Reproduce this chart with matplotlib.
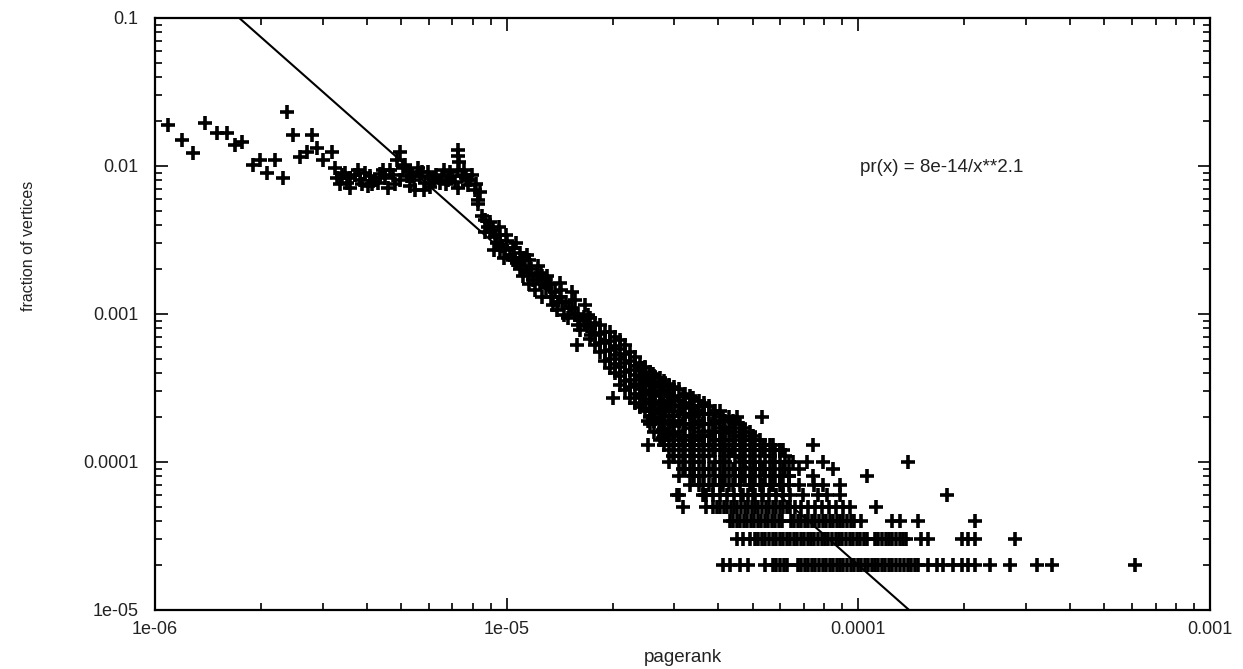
import matplotlib.pyplot as plt
import numpy as np
from matplotlib.ticker import NullFormatter

# fitted power law shown on the chart: pr(x) = 8e-14 / x**2.1
fit_coef = 8e-14
fit_exp = 2.1

# sparse points, upper left
left_x = [1.09e-6, 1.19e-6, 1.28e-6, 1.39e-6, 1.50e-6, 1.60e-6, 1.69e-6, 1.77e-6,
          1.90e-6, 1.99e-6, 2.19e-6, 2.08e-6, 2.31e-6, 2.37e-6, 2.47e-6, 2.79e-6,
          2.58e-6, 2.70e-6, 2.89e-6, 3.00e-6, 3.19e-6, 3.25e-6, 3.40e-6]
left_y = [0.0189, 0.0150, 0.0122, 0.0195, 0.0167, 0.0167, 0.0139, 0.0145,
          0.0102, 0.0110, 0.0110, 0.0090, 0.0083, 0.0232, 0.0162, 0.0162,
          0.0115, 0.0124, 0.0132, 0.0110, 0.0124, 0.0097, 0.0087]

# plateau around 0.008
plateau_x = [3.47e-6, 3.58e-6, 3.70e-6, 3.82e-6, 3.95e-6, 4.08e-6, 4.22e-6, 4.36e-6,
             4.51e-6, 4.66e-6, 4.74e-6, 4.88e-6, 4.97e-6, 5.06e-6, 5.21e-6, 5.30e-6,
             5.44e-6, 5.59e-6, 5.66e-6, 5.85e-6, 5.96e-6, 6.12e-6, 6.28e-6, 6.45e-6,
             6.62e-6, 6.81e-6, 6.98e-6, 7.25e-6, 7.25e-6, 7.34e-6, 7.25e-6, 7.44e-6,
             7.65e-6, 7.87e-6, 8.11e-6, 8.27e-6, 7.76e-6, 3.36e-6, 4.14e-6, 4.81e-6,
             6.04e-6, 5.48e-6, 3.30e-6, 3.52e-6, 3.78e-6, 3.88e-6, 4.31e-6, 4.45e-6,
             4.97e-6, 5.13e-6, 5.37e-6, 5.74e-6, 6.20e-6, 6.53e-6, 6.90e-6, 7.12e-6,
             7.55e-6, 7.95e-6, 8.16e-6, 8.38e-6, 3.58e-6, 4.02e-6, 4.60e-6, 5.30e-6,
             5.81e-6, 6.74e-6, 7.25e-6]
plateau_y = [0.0089, 0.0083, 0.0087, 0.0081, 0.0089, 0.0085, 0.0080, 0.0088,
             0.0083, 0.0094, 0.0087, 0.0110, 0.0124, 0.0097, 0.0085, 0.0091,
             0.0081, 0.0097, 0.0086, 0.0077, 0.0091, 0.0083, 0.0087, 0.0077,
             0.0094, 0.0081, 0.0086, 0.0128, 0.0117, 0.0106, 0.0094, 0.0086,
             0.0083, 0.0081, 0.0069, 0.0059, 0.0074, 0.0076, 0.0075, 0.0076,
             0.0072, 0.0069, 0.0083, 0.0077, 0.0094, 0.0075, 0.0077, 0.0094,
             0.0081, 0.0102, 0.0086, 0.0091, 0.0081, 0.0086, 0.0091, 0.0078,
             0.0094, 0.0087, 0.0075, 0.0067, 0.0071, 0.0073, 0.0071, 0.0073,
             0.0069, 0.0075, 0.0071]

# narrow descending band
band_x = [8.27e-6, 8.49e-6, 8.66e-6, 8.84e-6, 8.96e-6, 9.15e-6, 9.25e-6, 9.37e-6,
          9.57e-6, 9.70e-6, 9.87e-6, 1.00e-5, 1.02e-5, 1.04e-5, 1.05e-5, 1.07e-5,
          1.09e-5, 1.10e-5, 1.13e-5, 1.15e-5, 1.17e-5, 1.19e-5, 1.22e-5, 1.24e-5,
          1.26e-5, 1.29e-5, 1.31e-5, 1.34e-5, 1.37e-5, 1.40e-5, 1.42e-5, 1.44e-5,
          1.47e-5, 1.50e-5, 1.53e-5, 1.56e-5, 1.59e-5, 1.62e-5, 1.66e-5, 1.69e-5,
          1.05e-5, 1.09e-5, 1.14e-5, 1.16e-5, 1.23e-5, 1.26e-5, 1.30e-5, 1.35e-5,
          1.42e-5, 1.46e-5, 1.53e-5, 1.59e-5, 1.67e-5, 9.57e-6, 1.58e-5,
          8.66e-6, 8.96e-6, 9.20e-6, 9.50e-6, 9.80e-6, 9.95e-6, 1.04e-5, 1.06e-5,
          1.11e-5, 1.12e-5, 1.16e-5, 1.20e-5, 1.25e-5, 1.28e-5, 1.34e-5, 1.39e-5,
          1.43e-5, 1.49e-5, 1.56e-5, 1.62e-5, 1.70e-5, 1.74e-5]
band_y = [0.0055, 0.0046, 0.0043, 0.0039, 0.0036, 0.0037, 0.0033, 0.0030,
          0.0034, 0.0029, 0.0027, 0.0031, 0.0025, 0.0028, 0.0024, 0.0022,
          0.0026, 0.0021, 0.0023, 0.0019, 0.0020, 0.0017, 0.0018, 0.0016,
          0.0018, 0.0015, 0.0016, 0.0013, 0.0014, 0.0012, 0.0013, 0.0012,
          0.0012, 0.0011, 0.0011, 0.00098, 0.0010, 0.00091, 0.00096, 0.00083,
          0.0028, 0.0020, 0.0025, 0.0016, 0.0021, 0.0013, 0.0018, 0.00115,
          0.00163, 0.00098, 0.0014, 0.00084, 0.00115, 0.0027, 0.00062,
          0.0036, 0.0042, 0.0027, 0.0039, 0.0024, 0.0034, 0.0023, 0.0030,
          0.0018, 0.0024, 0.0023, 0.00145, 0.0019, 0.0017, 0.0016, 0.00106,
          0.00145, 0.00094, 0.00124, 0.00078, 0.00098, 0.00072]

# wide body, read column by column
body_x = [1.72e-5, 1.84e-5, 1.97e-5, 2.10e-5, 2.24e-5, 2.39e-5, 2.55e-5, 2.72e-5,
          2.90e-5, 3.10e-5, 3.31e-5, 3.53e-5, 3.77e-5, 4.03e-5, 4.30e-5, 4.60e-5,
          4.91e-5, 5.24e-5, 5.59e-5, 5.97e-5, 6.37e-5]
body_y = [
    [9.4e-4, 8.0e-4, 6.8e-4],
    [8.4e-4, 7.3e-4, 6.4e-4, 5.5e-4],
    [7.5e-4, 6.6e-4, 5.7e-4, 5.0e-4, 4.3e-4],
    [6.7e-4, 5.8e-4, 5.0e-4, 4.4e-4, 3.8e-4, 3.3e-4],
    [5.5e-4, 4.8e-4, 4.2e-4, 3.6e-4, 3.2e-4, 2.7e-4],
    [4.7e-4, 4.1e-4, 3.6e-4, 3.1e-4, 2.7e-4, 2.35e-4],
    [4.05e-4, 3.5e-4, 3.06e-4, 2.66e-4, 2.3e-4, 2.0e-4, 1.8e-4],
    [3.7e-4, 3.2e-4, 2.8e-4, 2.43e-4, 2.1e-4, 1.8e-4, 1.6e-4, 1.4e-4],
    [3.3e-4, 2.9e-4, 2.5e-4, 2.2e-4, 1.9e-4, 1.6e-4, 1.4e-4, 1.2e-4, 1.0e-4],
    [3.1e-4, 2.6e-4, 2.2e-4, 1.9e-4, 1.6e-4, 1.4e-4, 1.2e-4, 1.0e-4, 8e-5],
    [2.8e-4, 2.4e-4, 2.1e-4, 1.8e-4, 1.5e-4, 1.3e-4, 1.1e-4, 9e-5, 7e-5],
    [2.6e-4, 2.2e-4, 1.9e-4, 1.6e-4, 1.4e-4, 1.2e-4, 1.0e-4, 8e-5, 7e-5],
    [2.4e-4, 2.1e-4, 1.8e-4, 1.5e-4, 1.3e-4, 1.1e-4, 9e-5, 7e-5],
    [2.2e-4, 1.9e-4, 1.6e-4, 1.4e-4, 1.2e-4, 1.0e-4, 8e-5, 7e-5],
    [2.0e-4, 1.7e-4, 1.4e-4, 1.2e-4, 1.1e-4, 9e-5, 7e-5],
    [1.8e-4, 1.5e-4, 1.3e-4, 1.1e-4, 9e-5, 8e-5, 7e-5],
    [1.6e-4, 1.4e-4, 1.2e-4, 1.0e-4, 8e-5, 7e-5],
    [1.4e-4, 1.2e-4, 1.0e-4, 9e-5, 7e-5],
    [1.3e-4, 1.1e-4, 9e-5, 7e-5],
    [1.2e-4, 1.0e-4, 8e-5, 7e-5],
    [1.0e-4, 8e-5, 7e-5],
]
body2_x = [1.78e-5, 1.90e-5, 2.03e-5, 2.17e-5, 2.31e-5, 2.47e-5, 2.63e-5, 2.81e-5,
           3.00e-5, 3.21e-5, 3.42e-5, 3.65e-5, 3.90e-5, 4.17e-5, 4.45e-5, 4.75e-5,
           5.07e-5, 5.41e-5, 5.78e-5, 6.17e-5]
body2_y = [
    [8.7e-4, 7.4e-4, 6.2e-4],
    [7.6e-4, 6.6e-4, 5.6e-4, 4.8e-4],
    [7.0e-4, 6.1e-4, 5.3e-4, 4.6e-4, 4.0e-4],
    [6.2e-4, 5.4e-4, 4.7e-4, 4.05e-4, 3.5e-4, 3.06e-4],
    [5.1e-4, 4.45e-4, 3.87e-4, 3.36e-4, 2.9e-4, 2.5e-4],
    [4.4e-4, 3.8e-4, 3.3e-4, 2.9e-4, 2.5e-4, 2.2e-4],
    [3.8e-4, 3.3e-4, 2.9e-4, 2.5e-4, 2.2e-4, 1.9e-4, 1.6e-4],
    [3.5e-4, 3.0e-4, 2.6e-4, 2.3e-4, 2.0e-4, 1.7e-4, 1.5e-4, 1.3e-4],
    [3.2e-4, 2.75e-4, 2.4e-4, 2.05e-4, 1.75e-4, 1.5e-4, 1.3e-4, 1.1e-4],
    [2.9e-4, 2.5e-4, 2.1e-4, 1.8e-4, 1.5e-4, 1.3e-4, 1.1e-4, 9e-5],
    [2.4e-4, 2.1e-4, 1.8e-4, 1.5e-4, 1.3e-4, 1.1e-4, 9e-5, 8e-5],
    [2.5e-4, 2.1e-4, 1.8e-4, 1.5e-4, 1.3e-4, 1.1e-4, 9e-5, 8e-5],
    [2.2e-4, 1.9e-4, 1.6e-4, 1.4e-4, 1.2e-4, 1.0e-4, 8e-5],
    [1.9e-4, 1.6e-4, 1.4e-4, 1.2e-4, 1.0e-4, 8e-5],
    [1.8e-4, 1.5e-4, 1.3e-4, 1.1e-4, 9e-5, 8e-5],
    [1.6e-4, 1.4e-4, 1.2e-4, 1.0e-4, 8e-5],
    [1.4e-4, 1.2e-4, 1.0e-4, 9e-5, 8e-5],
    [1.3e-4, 1.1e-4, 9e-5, 8e-5],
    [1.2e-4, 1.0e-4, 8e-5],
    [1.1e-4, 9e-5],
]
body3_x = [2.44e-5, 2.61e-5, 2.78e-5, 2.97e-5, 3.17e-5, 3.39e-5, 3.62e-5, 3.86e-5,
           4.12e-5, 4.40e-5, 4.70e-5, 5.02e-5, 5.35e-5, 5.72e-5, 6.10e-5]
body3_y = [
    [4.3e-4, 3.75e-4, 3.25e-4, 2.85e-4, 2.45e-4],
    [3.95e-4, 3.4e-4, 3.0e-4, 2.55e-4, 2.2e-4, 1.95e-4],
    [3.35e-4, 2.95e-4, 2.5e-4, 2.2e-4, 1.9e-4, 1.65e-4, 1.45e-4],
    [3.1e-4, 2.7e-4, 2.35e-4, 2.05e-4, 1.8e-4, 1.55e-4, 1.3e-4, 1.1e-4],
    [2.8e-4, 2.4e-4, 2.1e-4, 1.8e-4, 1.5e-4, 1.3e-4, 1.1e-4, 9e-5],
    [2.7e-4, 2.3e-4, 2.0e-4, 1.7e-4, 1.4e-4, 1.2e-4, 1.0e-4, 8e-5],
    [2.4e-4, 2.1e-4, 1.8e-4, 1.5e-4, 1.3e-4, 1.1e-4, 9e-5, 7e-5],
    [2.1e-4, 1.8e-4, 1.6e-4, 1.3e-4, 1.2e-4, 9e-5, 7e-5],
    [2.0e-4, 1.7e-4, 1.4e-4, 1.2e-4, 1.0e-4, 8e-5, 7e-5],
    [1.9e-4, 1.6e-4, 1.3e-4, 1.2e-4, 9e-5, 7e-5],
    [1.7e-4, 1.4e-4, 1.2e-4, 1.0e-4, 8e-5, 6e-5],
    [1.5e-4, 1.3e-4, 1.1e-4, 9e-5, 7e-5, 6e-5],
    [1.3e-4, 1.2e-4, 9e-5, 7e-5, 6e-5],
    [1.2e-4, 1.0e-4, 8e-5, 7e-5],
    [1.2e-4, 9e-5, 7e-5],
]

# scattered points above the quantized rows
outlier_x = [2.0e-5, 2.52e-5, 2.52e-5, 3.05e-5, 3.66e-5, 4.52e-5, 5.32e-5, 5.71e-5,
             5.99e-5, 6.52e-5, 7.14e-5, 7.43e-5, 7.94e-5, 8.48e-5, 7.43e-5, 8.87e-5,
             1.06e-4, 1.38e-4, 1.79e-4, 6.96e-5, 7.68e-5, 8.15e-5, 8.87e-5, 6.37e-5,
             6.80e-5, 6.80e-5, 7.50e-5, 7.94e-5, 3.10e-5, 3.62e-5]
outlier_y = [2.7e-4, 1.9e-4, 1.3e-4, 6e-5, 6e-5, 2.0e-4, 2.0e-4, 1.3e-4,
             1.2e-4, 1.0e-4, 1.0e-4, 1.3e-4, 1.0e-4, 9e-5, 8e-5, 7e-5,
             8e-5, 1.0e-4, 6e-5, 6e-5, 6e-5, 6e-5, 6e-5, 8e-5,
             9e-5, 7e-5, 7e-5, 7e-5, 6e-5, 6e-5]

# quantized low rows (count / total vertices)
row6_x = [3.69e-5, 3.86e-5, 4.04e-5, 4.23e-5, 4.43e-5, 4.64e-5, 4.86e-5, 5.08e-5,
          5.32e-5, 5.57e-5, 5.84e-5, 6.11e-5, 6.40e-5]
row5_x = [3.17e-5, 3.69e-5, 3.86e-5, 3.95e-5, 4.04e-5, 4.14e-5, 4.23e-5, 4.33e-5,
          4.43e-5, 4.53e-5, 4.64e-5, 4.75e-5, 4.86e-5, 4.97e-5, 5.08e-5, 5.20e-5,
          5.32e-5, 5.45e-5, 5.57e-5, 5.70e-5, 5.84e-5, 5.97e-5, 6.11e-5, 6.25e-5,
          6.40e-5, 6.60e-5, 6.87e-5, 7.19e-5, 7.53e-5, 7.88e-5, 8.25e-5, 8.64e-5,
          9.04e-5, 9.47e-5, 1.12e-4]
row4_x = [4.31e-5, 4.41e-5, 4.51e-5, 4.62e-5, 4.72e-5, 4.83e-5, 4.95e-5, 5.06e-5,
          5.18e-5, 5.30e-5, 5.42e-5, 5.55e-5, 5.68e-5, 5.81e-5, 5.94e-5, 6.08e-5,
          6.43e-5, 6.58e-5, 6.73e-5, 6.89e-5, 7.05e-5, 7.21e-5, 7.38e-5, 7.55e-5,
          7.73e-5, 7.91e-5, 8.09e-5, 8.28e-5, 8.47e-5, 8.67e-5, 8.87e-5, 9.07e-5,
          9.28e-5, 9.50e-5, 9.72e-5, 1.017e-4, 1.25e-4, 1.31e-4, 1.48e-4, 2.15e-4]
row3_x = [4.52e-5, 4.70e-5, 4.92e-5, 5.08e-5, 5.20e-5, 5.32e-5, 5.44e-5, 5.57e-5,
          5.70e-5, 5.83e-5, 5.97e-5, 6.10e-5, 6.25e-5, 6.39e-5, 6.54e-5, 6.69e-5,
          6.85e-5, 7.00e-5, 7.17e-5, 7.33e-5, 7.50e-5, 7.68e-5, 7.86e-5, 8.04e-5,
          8.22e-5, 8.42e-5, 8.61e-5, 8.81e-5, 9.01e-5, 9.22e-5, 9.44e-5, 9.66e-5,
          9.88e-5, 1.01e-4, 1.035e-4, 1.06e-4, 1.115e-4, 1.14e-4, 1.17e-4, 1.20e-4,
          1.22e-4, 1.25e-4, 1.28e-4, 1.31e-4, 1.34e-4, 1.37e-4, 1.51e-4, 1.58e-4,
          1.97e-4, 2.05e-4, 2.15e-4, 2.79e-4]
row2_x = [4.12e-5, 4.31e-5, 4.61e-5, 4.86e-5, 5.43e-5, 5.72e-5, 5.85e-5, 5.99e-5,
          6.13e-5, 6.27e-5, 6.73e-5, 6.89e-5, 7.05e-5, 7.21e-5, 7.38e-5, 7.55e-5,
          7.73e-5, 7.91e-5, 8.09e-5, 8.28e-5, 8.47e-5, 8.67e-5, 8.87e-5, 9.07e-5,
          9.28e-5, 9.50e-5, 9.72e-5, 9.95e-5, 1.018e-4, 1.042e-4, 1.066e-4, 1.09e-4,
          1.115e-4, 1.14e-4, 1.167e-4, 1.194e-4, 1.22e-4, 1.25e-4, 1.28e-4, 1.31e-4,
          1.35e-4, 1.38e-4, 1.41e-4, 1.45e-4, 1.48e-4, 1.58e-4, 1.67e-4, 1.74e-4,
          1.86e-4, 1.97e-4, 2.05e-4, 2.15e-4, 2.37e-4, 2.70e-4, 3.22e-4, 3.55e-4,
          6.11e-4]
row_levels = [6e-5, 5e-5, 4e-5, 3e-5, 2e-5]

xs_all = left_x + plateau_x + band_x + outlier_x
ys_all = left_y + plateau_y + band_y + outlier_y
for cx, cys in zip(body_x + body2_x + body3_x, body_y + body2_y + body3_y):
    xs_all += [cx] * len(cys)
    ys_all += cys
for lvl, rx in zip(row_levels, [row6_x, row5_x, row4_x, row3_x, row2_x]):
    xs_all += rx
    ys_all += [lvl] * len(rx)

plt.rcParams['font.family'] = ['Liberation Sans', 'DejaVu Sans']
txt = '#222222'

fig = plt.figure(figsize=(12.43, 6.69), dpi=100)
ax = fig.add_axes([0.1247, 0.0882, 0.8488, 0.8849])
ax.set_xscale('log')
ax.set_yscale('log')

ax.plot(xs_all, ys_all, '+', color='black', markersize=10.5, markeredgewidth=2.6,
        linestyle='none')

line_x = np.logspace(-6, -3, 300)
ax.plot(line_x, fit_coef / line_x ** fit_exp, color='black', lw=1.5)

ax.set_xlim(1e-6, 1e-3)
ax.set_ylim(1e-5, 0.1)

ax.set_xticks([1e-6, 1e-5, 1e-4, 1e-3], labels=['1e-06', '1e-05', '0.0001', '0.001'])
ax.set_yticks([1e-5, 1e-4, 1e-3, 1e-2, 1e-1],
              labels=['1e-05', '0.0001', '0.001', '0.01', '0.1'])
ax.xaxis.set_minor_formatter(NullFormatter())
ax.yaxis.set_minor_formatter(NullFormatter())
ax.tick_params(which='both', direction='in', top=True, right=True, width=1.2,
               colors='black', labelcolor=txt, labelsize=13)
ax.tick_params(which='major', length=9)
ax.tick_params(which='minor', length=5)
ax.tick_params(axis='y', pad=12)
ax.tick_params(axis='x', pad=8)
for s in ax.spines.values():
    s.set_linewidth(1.6)

ax.set_xlabel('pagerank', fontsize=13.5, color=txt)
ax.xaxis.set_label_coords(0.5, -0.066)
ax.set_ylabel('fraction of vertices', fontsize=11.5, color=txt)
ax.yaxis.set_label_coords(-0.113, 0.615)

ax.text(0.668, 0.747, 'pr(x) = 8e-14/x**2.1', transform=ax.transAxes,
        fontsize=13.5, color=txt, va='center', ha='left')

fig.savefig('out.png', dpi=100)
